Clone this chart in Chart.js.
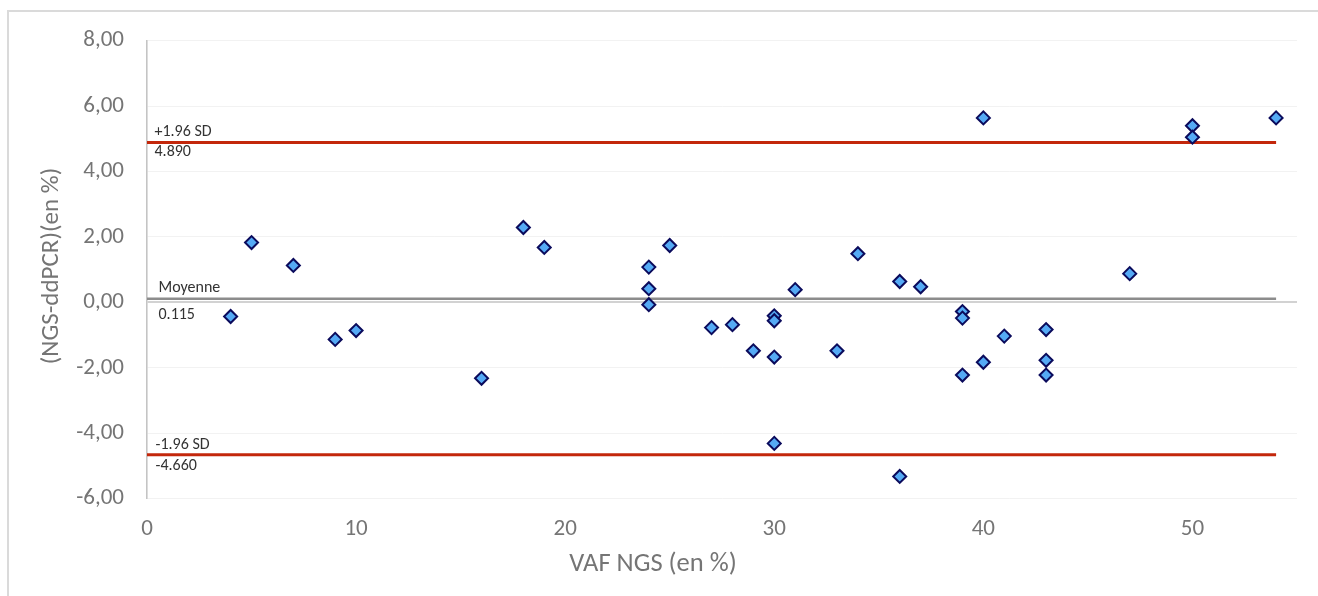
<!DOCTYPE html>
<html>
<head>
<meta charset="utf-8">
<script src="https://cdn.jsdelivr.net/npm/chart.js@4.4.1/dist/chart.umd.min.js"></script>
<style>
    html, body { margin: 0; padding: 0; background: #fff; overflow: hidden; }
    #wrap { position: relative; width: 1318px; height: 596px; }
    #frame {
        position: absolute; left: 7px; top: 10px; width: 1400px; height: 700px;
        border-left: 2px solid #dadada; border-top: 2px solid #dadada;
    }
    canvas { position: absolute; left: 0; top: 0; }
</style>
</head>
<body>
<div id="wrap">
    <div id="frame"></div>
    <canvas id="baChart" width="1318" height="596"></canvas>
</div>
<script>
        // Bland-Altman : VAF NGS vs difference NGS - ddPCR
        const vafNgs = [4, 5, 7, 9, 10, 16, 18, 19, 24, 24, 24, 25, 27, 28, 29, 30, 30, 30, 30, 31,
                        33, 34, 36, 36, 37, 39, 39, 39, 40, 40, 41, 43, 43, 43, 47, 50, 50, 54];
        const diff = [-0.43, 1.83, 1.13, -1.13, -0.86, -2.32, 2.29, 1.68, 1.08, 0.42, -0.07, 1.74, -0.77, -0.68, -1.48, -0.41, -0.56, -1.67, -4.31, 0.39,
                      -1.48, 1.49, 0.64, -5.32, 0.48, -0.28, -0.48, -2.22, 5.64, -1.83, -1.03, -0.83, -1.77, -2.22, 0.88, 5.40, 5.05, 5.64];

        const meanDiff = 0.115;
        const upperLoa = 4.890;
        const lowerLoa = -4.660;
        const lineSpan = [0, 54];

        const xTicks = [0, 10, 20, 30, 40, 50];
        const yTicks = [-6, -4, -2, 0, 2, 4, 6, 8];

        const refLines = [
            { value: upperLoa, name: '+1.96 SD', text: '4.890', color: '#c3270b', width: 3, indent: 7.5, above: 6.5, below: 14 },
            { value: meanDiff, name: 'Moyenne', text: '0.115', color: '#8c8c8c', width: 2.5, indent: 11.5, above: 6.5, below: 20.5 },
            { value: lowerLoa, name: '-1.96 SD', text: '-4.660', color: '#c3270b', width: 3, indent: 8.5, above: 5.5, below: 15.5 }
        ];

        const points = vafNgs.map((v, i) => ({ x: v, y: diff[i] }));

        Chart.defaults.font.family = 'Carlito, Lato, sans-serif';

        // labels beside the reference lines + axis titles
        const labelPlugin = {
            id: 'labelPlugin',
            afterDraw(chart) {
                const ctx = chart.ctx;
                const area = chart.chartArea;
                const y = chart.scales.y;
                ctx.save();
                ctx.font = '16px Carlito, Lato, sans-serif';
                ctx.fillStyle = '#333333';
                ctx.textAlign = 'left';
                ctx.textBaseline = 'alphabetic';
                refLines.forEach(l => {
                    const py = y.getPixelForValue(l.value);
                    const px = area.left + l.indent;
                    ctx.fillText(l.name, px, py - l.above);
                    ctx.fillText(l.text, px, py + l.below);
                });

                ctx.fillStyle = '#757575';
                ctx.font = '26.5px Carlito, Lato, sans-serif';
                ctx.textAlign = 'center';
                ctx.textBaseline = 'middle';
                ctx.fillText('VAF NGS (en %)', 653, 564);

                ctx.font = '25px Carlito, Lato, sans-serif';
                ctx.translate(52, 266);
                ctx.rotate(-Math.PI / 2);
                ctx.fillText('(NGS-ddPCR)(en %)', 0, 0);
                ctx.restore();
            }
        };

        const lineSets = refLines.map(l => ({
            type: 'line',
            data: lineSpan.map(x => ({ x: x, y: l.value })),
            borderColor: l.color,
            borderWidth: l.width,
            pointRadius: 0,
            fill: false,
            order: 1
        }));

        const ctx = document.getElementById('baChart').getContext('2d');
        new Chart(ctx, {
            type: 'scatter',
            data: {
                datasets: [
                    {
                        label: 'NGS - ddPCR',
                        data: points,
                        pointStyle: 'rectRot',
                        pointRadius: 6.5,
                        backgroundColor: '#55aaf5',
                        borderColor: '#0b0b5c',
                        borderWidth: 2,
                        order: 0
                    },
                    ...lineSets
                ]
            },
            options: {
                responsive: false,
                animation: false,
                layout: { padding: { top: 40.7, right: 21, left: 0, bottom: 0 } },
                plugins: {
                    legend: { display: false },
                    tooltip: { enabled: false }
                },
                scales: {
                    x: {
                        type: 'linear',
                        min: 0,
                        max: 55,
                        afterBuildTicks: scale => {
                            scale.ticks = xTicks.map(v => ({ value: v }));
                        },
                        afterFit: scale => { scale.height = 97.3; },
                        grid: { display: false },
                        border: { display: false },
                        ticks: {
                            padding: 9,
                            color: '#757575',
                            font: { size: 23 }
                        }
                    },
                    y: {
                        min: -6,
                        max: 8,
                        afterBuildTicks: scale => {
                            scale.ticks = yTicks.map(v => ({ value: v }));
                        },
                        afterFit: scale => { scale.width = 147; },
                        grid: {
                            drawTicks: false,
                            color: c => c.tick && c.tick.value === 0 ? '#d2d2d2' : '#f2f2f2',
                            lineWidth: c => c.tick && c.tick.value === 0 ? 2 : 1
                        },
                        border: { display: true, color: '#c4c4c4', width: 1.6 },
                        ticks: {
                            padding: 23,
                            color: '#757575',
                            font: { size: 23 },
                            callback: function(value) {
                                return value.toFixed(2).replace('.', ',');
                            }
                        }
                    }
                }
            },
            plugins: [labelPlugin]
        });
</script>
</body>
</html>
